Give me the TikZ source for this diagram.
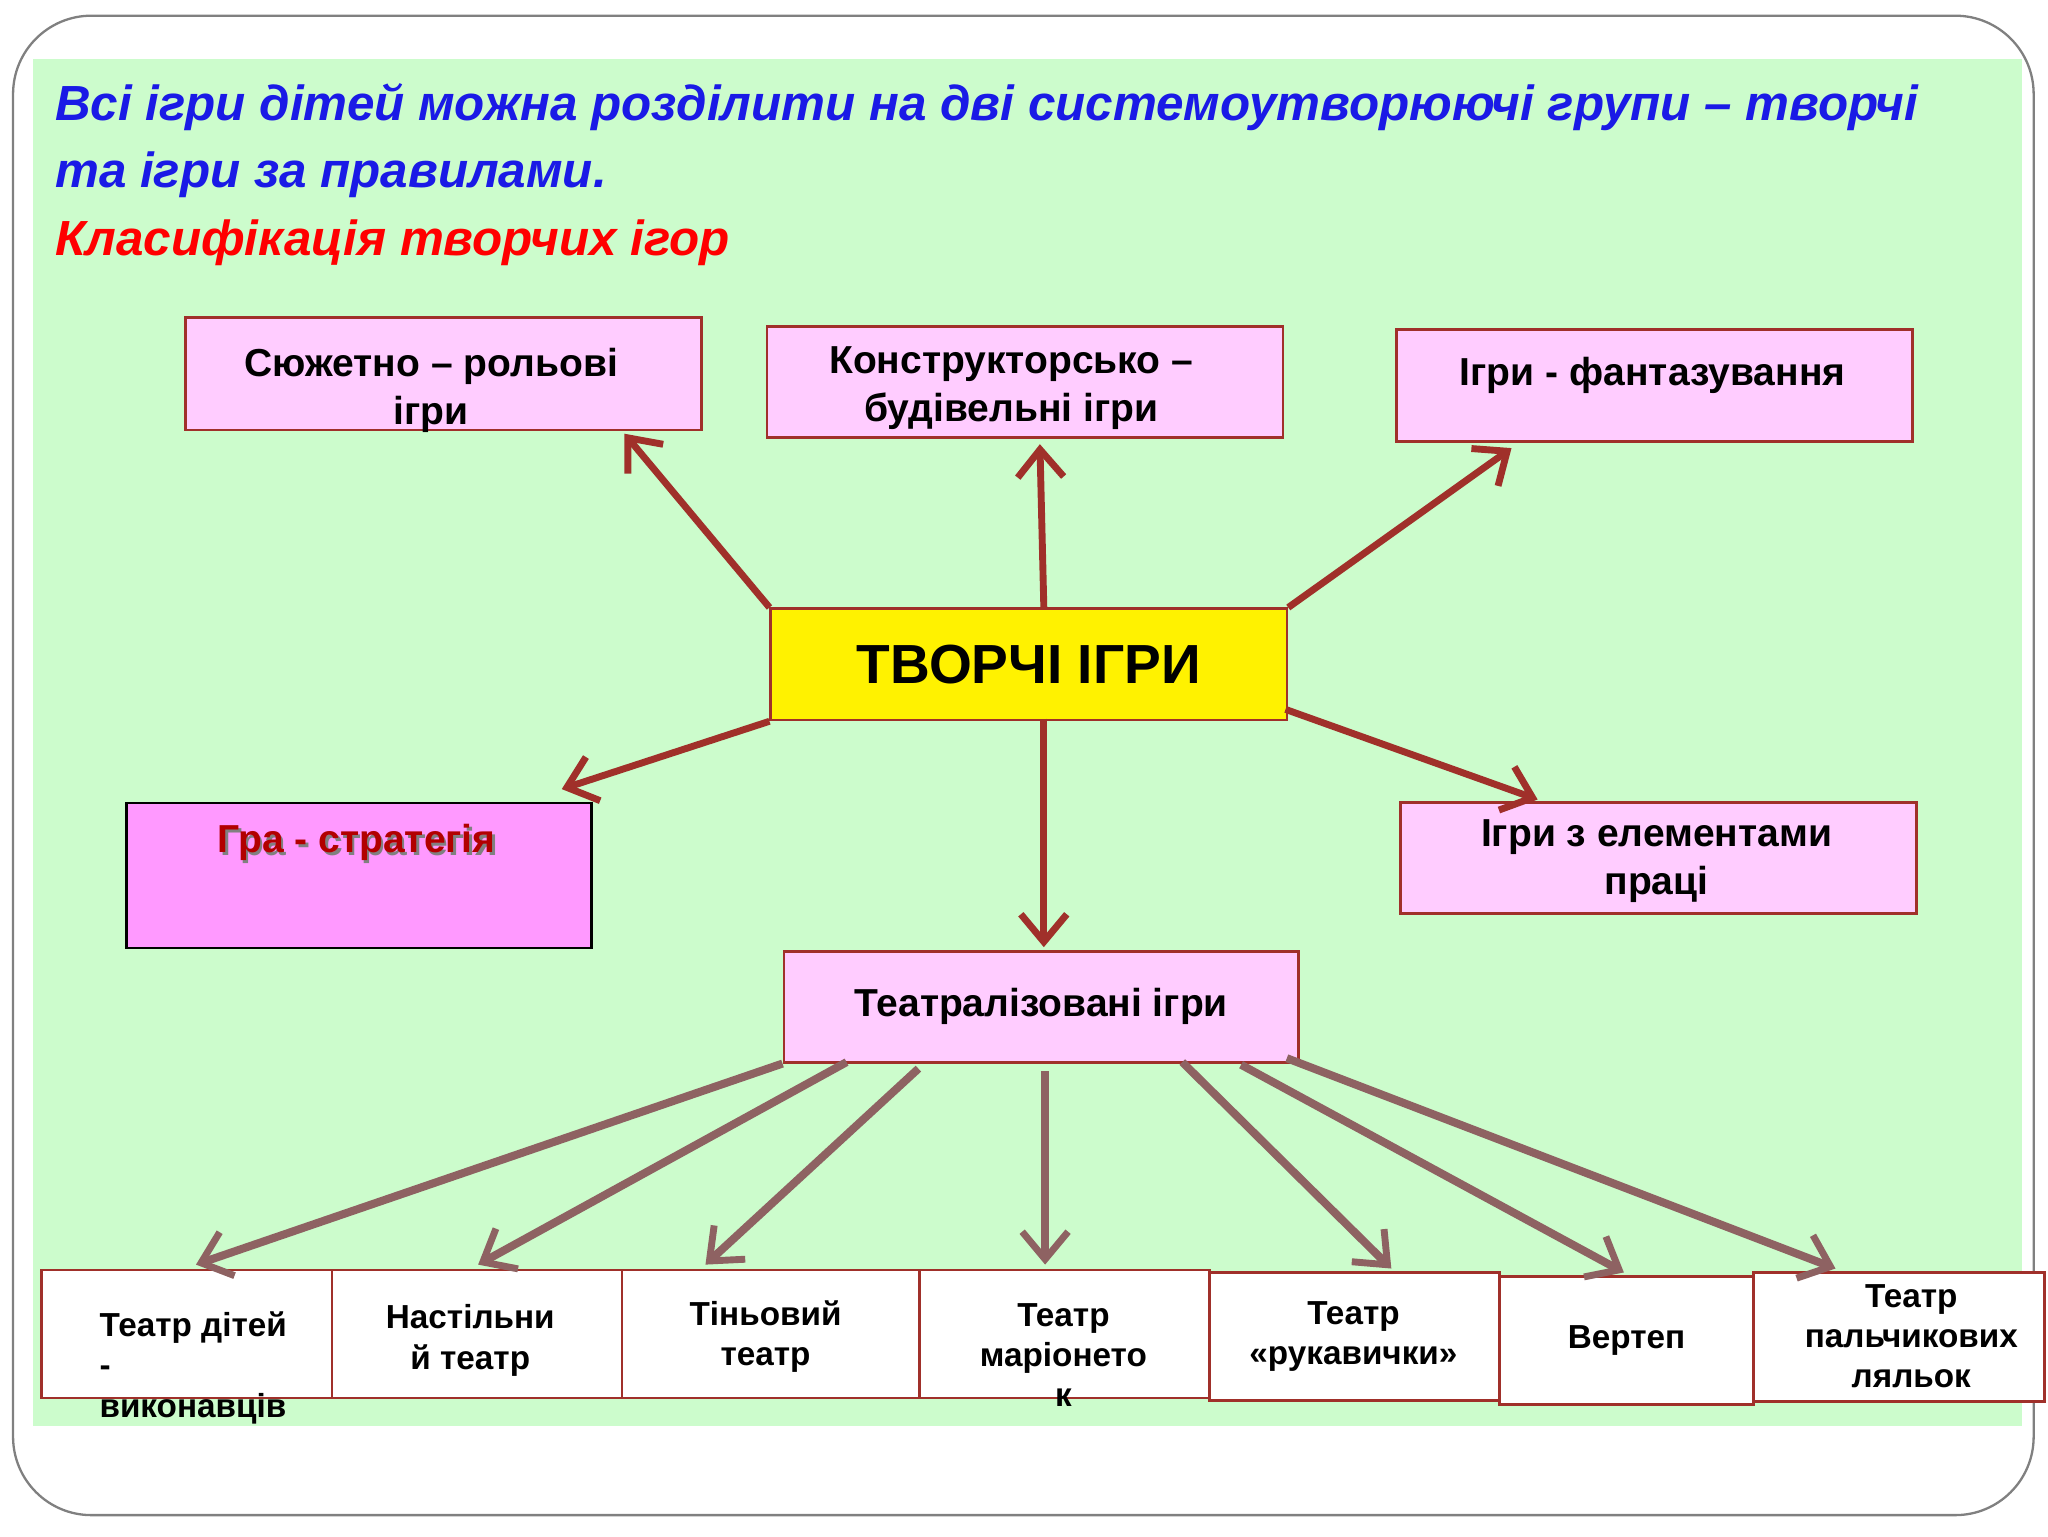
\documentclass[tikz,border=0pt]{standalone}
\usepackage{fontspec}
\setmainfont{Liberation Sans}
\usetikzlibrary{arrows.meta}
\definecolor{bg}{HTML}{CCFCCC}
\definecolor{pinkbox}{HTML}{FFCCFF}
\definecolor{boxline}{HTML}{A0302A}
\definecolor{arr}{HTML}{A0302A}
\definecolor{arr2}{HTML}{8E6262}
\definecolor{strat}{HTML}{FF99FF}
\definecolor{ttl}{HTML}{1A1AE6}
\tikzset{
 pbox/.style={draw=boxline,line width=1.2pt,fill=pinkbox,align=center},
 wbox/.style={draw=boxline,line width=1.2pt,fill=white,align=center},
 btxt/.style={font=\bfseries\fontsize{17}{21}\selectfont,align=center},
 stxt/.style={font=\bfseries\fontsize{14.5}{17.5}\selectfont,align=center},
 uarr/.style={draw=arr,line width=3pt,-{Straight Barb[length=12pt,width=20pt,line width=3pt]}},
 larr/.style={draw=arr2,line width=3.5pt,-{Straight Barb[length=12pt,width=20pt,line width=3pt]}},
}
\newcommand{\bx}[6]{\node[#1,minimum width=#4*0.02cm,minimum height=#5*0.02cm,anchor=north west,inner sep=0] (#6) at (#2*0.02cm,-#3*0.02cm) {};}
\begin{document}
\begin{tikzpicture}
\useasboundingbox (0,0) rectangle (31.36,-23.52);
\draw[gray,line width=1pt,fill=white,rounded corners=1.2cm] (0.2,-0.24) rectangle (31.14,-23.2);
\fill[bg] (0.5,-0.9) rectangle (30.96,-21.84);
\node[anchor=west,text=ttl,font=\bfseries\itshape\fontsize{21.5}{25}\selectfont] (t1) at (0.72,-1.64) {Всі ігри дітей можна розділити на дві системоутворюючі групи – творчі};
\node[anchor=west,text=ttl,font=\bfseries\itshape\fontsize{21.5}{25}\selectfont] (t2) at (0.72,-2.68) {та ігри за правилами.};
\node[anchor=west,text=red,font=\bfseries\itshape\fontsize{21.5}{25}\selectfont] (t3) at (0.72,-3.72) {Класифікація творчих ігор};
% boxes
\bx{pbox}{141}{242}{395}{86}{a}
\node[btxt] at (330*0.02,-299*0.02) {Сюжетно – рольові\\ігри};
\bx{pbox}{586}{249}{395}{85}{b}
\node[btxt] at (774*0.02,-297*0.02) {Конструкторсько –\\будівельні ігри};
\bx{pbox}{1068}{251}{395}{86}{c}
\node[btxt] at (1265*0.02,-287*0.02) {Ігри - фантазування};
\node[draw=boxline,line width=1.2pt,fill=yellow,minimum width=395*0.02cm,minimum height=85*0.02cm,anchor=north west,inner sep=0,font=\bfseries\fontsize{24}{28}\selectfont] (m) at (589*0.02,-465*0.02) {ТВОРЧІ ІГРИ};
\node[draw=black,line width=1pt,fill=strat,minimum width=356*0.02cm,minimum height=111*0.02cm,anchor=north west,inner sep=0] (s) at (96*0.02,-614*0.02) {};
\node[text=black!50,font=\bfseries\fontsize{17}{20}\selectfont] at (275*0.02,-647*0.02) {Гра - стратегія};
\node[text=red!70!black,font=\bfseries\fontsize{17}{20}\selectfont] at (273*0.02,-645*0.02) {Гра - стратегія};
\bx{pbox}{1071}{613}{395}{85}{w}
\node[btxt] at (1268*0.02,-659*0.02) {Ігри з елементами\\праці};
\bx{pbox}{599}{727}{394}{85}{th}
\node[btxt] at (th) {Театралізовані ігри};
% bottom
\bx{wbox}{31}{971}{222}{98}{b1}
\node[stxt,align=left,anchor=north west] at (70*0.02,-998*0.02) {Театр дітей\\-\\виконавців};
\bx{wbox}{253}{971}{222}{98}{b2}
\node[stxt] at (360*0.02,-1026*0.02) {Настільни\\й театр};
\bx{wbox}{475}{971}{228}{98}{b3}
\node[stxt] at (586*0.02,-1023*0.02) {Тіньовий\\театр};
\bx{wbox}{703}{971}{222}{98}{b4}
\node[stxt] at (814*0.02,-1037*0.02) {Театр\\маріонето\\к};
\bx{wbox}{925}{973}{222}{98}{b5}
\node[stxt] at (1036*0.02,-1023*0.02) {Театр\\«рукавички»};
\bx{wbox}{1147}{976}{194}{98}{b6}
\node[stxt] at (b6) {Вертеп};
\bx{wbox}{1341}{973}{223}{99}{b7}
\node[stxt] at (1463*0.02,-1023*0.02) {Театр\\пальчикових\\ляльок};
% arrows
\draw[uarr] (m.north west) -- (478*0.02,-332*0.02);
\draw[uarr] (799*0.02,-465*0.02) -- (796*0.02,-340*0.02);
\draw[uarr] (m.north east) -- (1157*0.02,-343*0.02);
\draw[uarr] (m.south west) -- (430*0.02,-604*0.02);
\draw[uarr] (984*0.02,-543*0.02) -- (1177*0.02,-612*0.02);
\draw[uarr] (799*0.02,-550*0.02) -- (799*0.02,-725*0.02);
\draw[larr] (th.south west) -- (150*0.02,-968*0.02);
\draw[larr] (648*0.02,-813*0.02) -- (366*0.02,-968*0.02);
\draw[larr] (703*0.02,-818*0.02) -- (540*0.02,-968*0.02);
\draw[larr] (800*0.02,-820*0.02) -- (800*0.02,-968*0.02);
\draw[larr] (905*0.02,-813*0.02) -- (1065*0.02,-971*0.02);
\draw[larr] (950*0.02,-815*0.02) -- (1243*0.02,-974*0.02);
\draw[larr] (985*0.02,-810*0.02) -- (1405*0.02,-971*0.02);
\end{tikzpicture}
\end{document}
